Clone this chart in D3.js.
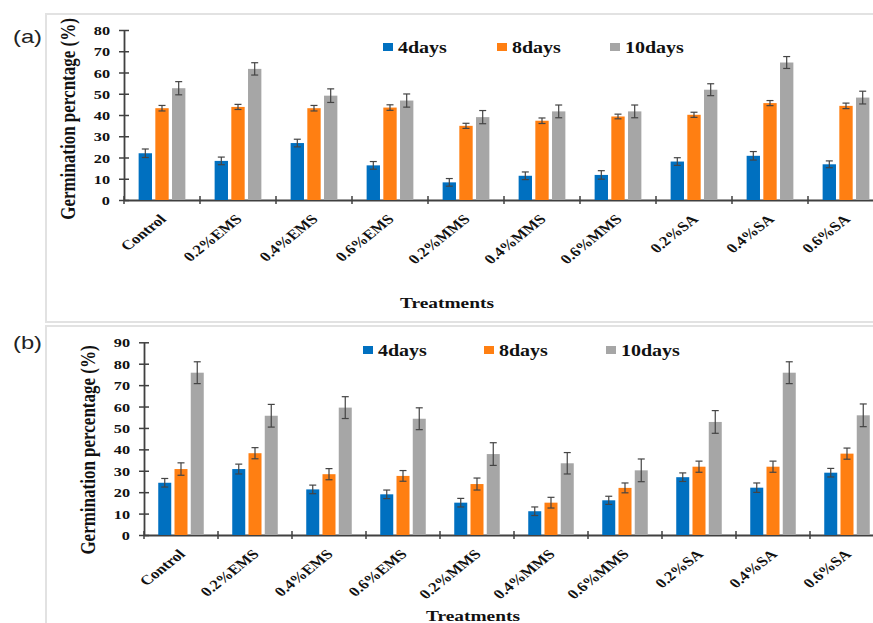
<!DOCTYPE html>
<html>
<head>
<meta charset="utf-8">
<script src="https://cdn.jsdelivr.net/npm/d3@7"></script>
<style>
  body { margin: 0; background: #fff; }
  svg { display: block; }
</style>
</head>
<body>
<div id="chart"></div>
<script>
// Treatments and sampling days
const categories = ["Control", "0.2%EMS", "0.4%EMS", "0.6%EMS", "0.2%MMS",
  "0.4%MMS", "0.6%MMS", "0.2%SA", "0.4%SA", "0.6%SA"];
const series = ["4days", "8days", "10days"];

// Panel (a) germination % and error bars
const a4days = [22.0, 18.4, 26.8, 16.3, 8.3, 11.4, 11.8, 18.1, 20.8, 16.8];
const a8days = [43.2, 43.8, 43.2, 43.5, 34.9, 37.3, 39.3, 40.1, 45.6, 44.3];
const a10days = [52.6, 61.7, 49.1, 46.8, 39.0, 41.7, 41.7, 51.9, 64.7, 48.2];
const a4err = [2.0, 1.8, 1.8, 1.8, 1.8, 1.8, 2.0, 1.8, 2.0, 1.6];
const a8err = [1.3, 1.2, 1.3, 1.3, 1.2, 1.3, 1.1, 1.2, 1.2, 1.3];
const a10err = [3.1, 2.9, 3.2, 3.1, 3.1, 3.0, 3.0, 2.8, 2.8, 3.0];

// Panel (b)
const b4days = [24.4, 30.8, 21.3, 19.0, 15.1, 11.1, 16.2, 27.0, 22.1, 29.1];
const b8days = [30.8, 38.2, 28.4, 27.6, 23.8, 15.1, 22.0, 31.9, 31.9, 38.0];
const b10days = [75.8, 55.7, 59.5, 54.3, 37.8, 33.5, 30.2, 52.8, 75.8, 55.9];
const b4err = [2.0, 2.3, 2.0, 2.0, 2.0, 2.0, 1.9, 2.0, 2.2, 2.0];
const b8err = [2.9, 2.6, 2.6, 2.5, 2.8, 2.5, 2.3, 2.6, 2.6, 2.6];
const b10err = [5.1, 5.3, 5.1, 5.1, 5.3, 5.0, 5.3, 5.3, 5.1, 5.3];

// Tick labels
const aTicks = [0, 10, 20, 30, 40, 50, 60, 70, 80];
const bTicks = [0, 10, 20, 30, 40, 50, 60, 70, 80, 90];

// Setup
const width = 873;
const height = 623;
const S = 1.25; // the source picture is stretched horizontally
const serif = "'Liberation Serif', 'Times New Roman', serif";
const colors = ["#0070C0", "#FF7F12", "#A6A6A6"];
const axisColor = "#404040";

const svg = d3.select("#chart")
  .append("svg")
  .attr("width", width)
  .attr("height", height);

svg.append("rect").attr("width", width).attr("height", height).attr("fill", "#fff");

const panels = [
  {
    label: "(a)", labelY: 43,
    yTitle: "Germination percntage (%)", titleX: 75, titleY: 119,
    values: [a4days, a8days, a10days], errors: [a4err, a8err, a10err],
    ticks: aTicks, left: 124, catWidth: 76, top: 30, bottom: 200,
    box: [46, 14, 322],
    legendX: [383, 497, 610], legendY: 43,
    xTitleX: 447, xTitleY: 308
  },
  {
    label: "(b)", labelY: 349,
    yTitle: "Germination percentage (%)", titleX: 95, titleY: 450,
    values: [b4days, b8days, b10days], errors: [b4err, b8err, b10err],
    ticks: bTicks, left: 144, catWidth: 74, top: 342.3, bottom: 535,
    box: [46, 326, 640],
    legendX: [363, 484, 606], legendY: 346,
    xTitleX: 473, xTitleY: 621
  }
];

panels.forEach(p => {
  const g = svg.append("g");

  // light frame round the panel
  g.append("rect")
    .attr("x", p.box[0]).attr("y", p.box[1])
    .attr("width", 900 - p.box[0]).attr("height", p.box[2] - p.box[1])
    .attr("fill", "none").attr("stroke", "#e2e2e2").attr("stroke-width", 2);

  g.append("text")
    .attr("transform", `translate(13,${p.labelY}) scale(${S},1)`)
    .attr("font-family", "'Liberation Sans', Arial, sans-serif")
    .attr("font-size", 19)
    .attr("fill", "#222")
    .text(p.label);

  const top = (p.ticks.length - 1) * 10;
  const y = d3.scaleLinear().domain([0, top]).range([p.bottom, p.top]);

  const x0 = d3.scaleBand()
    .domain(categories)
    .range([p.left, p.left + p.catWidth * categories.length])
    .paddingInner(0.385)
    .paddingOuter(0.1925);

  const x1 = d3.scaleBand()
    .domain(series)
    .range([0, x0.bandwidth()])
    .paddingInner(0.2);

  // y axis
  const yAxis = g.append("g")
    .attr("transform", `translate(${p.left},0)`)
    .call(d3.axisLeft(y).tickValues(p.ticks).tickSize(5).tickSizeOuter(0).tickPadding(0));
  yAxis.select(".domain").attr("stroke", axisColor).attr("stroke-width", 1.8);
  yAxis.selectAll(".tick line").attr("x1", 5).attr("stroke", axisColor).attr("stroke-width", 1.5);
  yAxis.selectAll(".tick text")
    .attr("x", null).attr("dy", null)
    .attr("transform", `translate(-14,4.5) scale(${S},1)`)
    .attr("font-family", serif).attr("font-weight", "bold").attr("font-size", 13)
    .attr("fill", "#111");

  // x axis with category labels
  const xAxis = g.append("g")
    .attr("transform", `translate(0,${p.bottom})`)
    .call(d3.axisBottom(x0).tickSize(0).tickSizeOuter(0));
  xAxis.select(".domain").attr("stroke", axisColor).attr("stroke-width", 1.8);
  xAxis.selectAll(".tick text")
    .attr("y", null).attr("dy", null)
    .attr("text-anchor", "end")
    .attr("transform", `translate(5,20) scale(${S},1) rotate(-45)`)
    .attr("font-family", serif).attr("font-weight", "bold").attr("font-size", 13.5)
    .attr("fill", "#111");

  // boundary ticks between categories
  const gap = (x0.step() - x0.bandwidth()) / 2;
  g.selectAll(".bound")
    .data(categories)
    .join("line")
    .attr("x1", d => x0(d) - gap).attr("x2", d => x0(d) - gap)
    .attr("y1", p.bottom - 4).attr("y2", p.bottom + 4)
    .attr("stroke", axisColor).attr("stroke-width", 1.5);

  // bars
  series.forEach((s, si) => {
    const vals = p.values[si];
    const errs = p.errors[si];
    const sg = g.append("g");
    sg.selectAll("rect")
      .data(categories)
      .join("rect")
      .attr("x", d => x0(d) + x1(s))
      .attr("y", (d, i) => y(vals[i]))
      .attr("width", x1.bandwidth())
      .attr("height", (d, i) => p.bottom - y(vals[i]))
      .attr("fill", colors[si]);

    // error bars
    const eg = sg.append("g").attr("stroke", "#444").attr("stroke-width", 1.2);
    categories.forEach((c, i) => {
      const cx = x0(c) + x1(s) + x1.bandwidth() / 2;
      const hi = y(vals[i] + errs[i]);
      const lo = y(vals[i] - errs[i]);
      eg.append("line").attr("x1", cx).attr("x2", cx).attr("y1", hi).attr("y2", lo);
      eg.append("line").attr("x1", cx - 3.5).attr("x2", cx + 3.5).attr("y1", hi).attr("y2", hi);
      eg.append("line").attr("x1", cx - 3.5).attr("x2", cx + 3.5).attr("y1", lo).attr("y2", lo);
    });
  });

  // legend
  series.forEach((s, si) => {
    g.append("rect")
      .attr("x", p.legendX[si]).attr("y", p.legendY)
      .attr("width", 10).attr("height", 8)
      .attr("fill", colors[si]);
    g.append("text")
      .attr("transform", `translate(${p.legendX[si] + 15},${p.legendY + 10}) scale(${S},1)`)
      .attr("font-family", serif).attr("font-weight", "bold").attr("font-size", 16)
      .attr("fill", "#111")
      .text(s);
  });

  // axis titles
  g.append("text")
    .attr("transform", `translate(${p.titleX},${p.titleY}) scale(${S},1) rotate(-90)`)
    .attr("text-anchor", "middle")
    .attr("font-family", serif).attr("font-weight", "bold").attr("font-size", 17)
    .attr("fill", "#111")
    .text(p.yTitle);

  g.append("text")
    .attr("transform", `translate(${p.xTitleX},${p.xTitleY}) scale(${S},1)`)
    .attr("text-anchor", "middle")
    .attr("font-family", serif).attr("font-weight", "bold").attr("font-size", 15.5)
    .attr("fill", "#111")
    .text("Treatments");
});
</script>
</body>
</html>
